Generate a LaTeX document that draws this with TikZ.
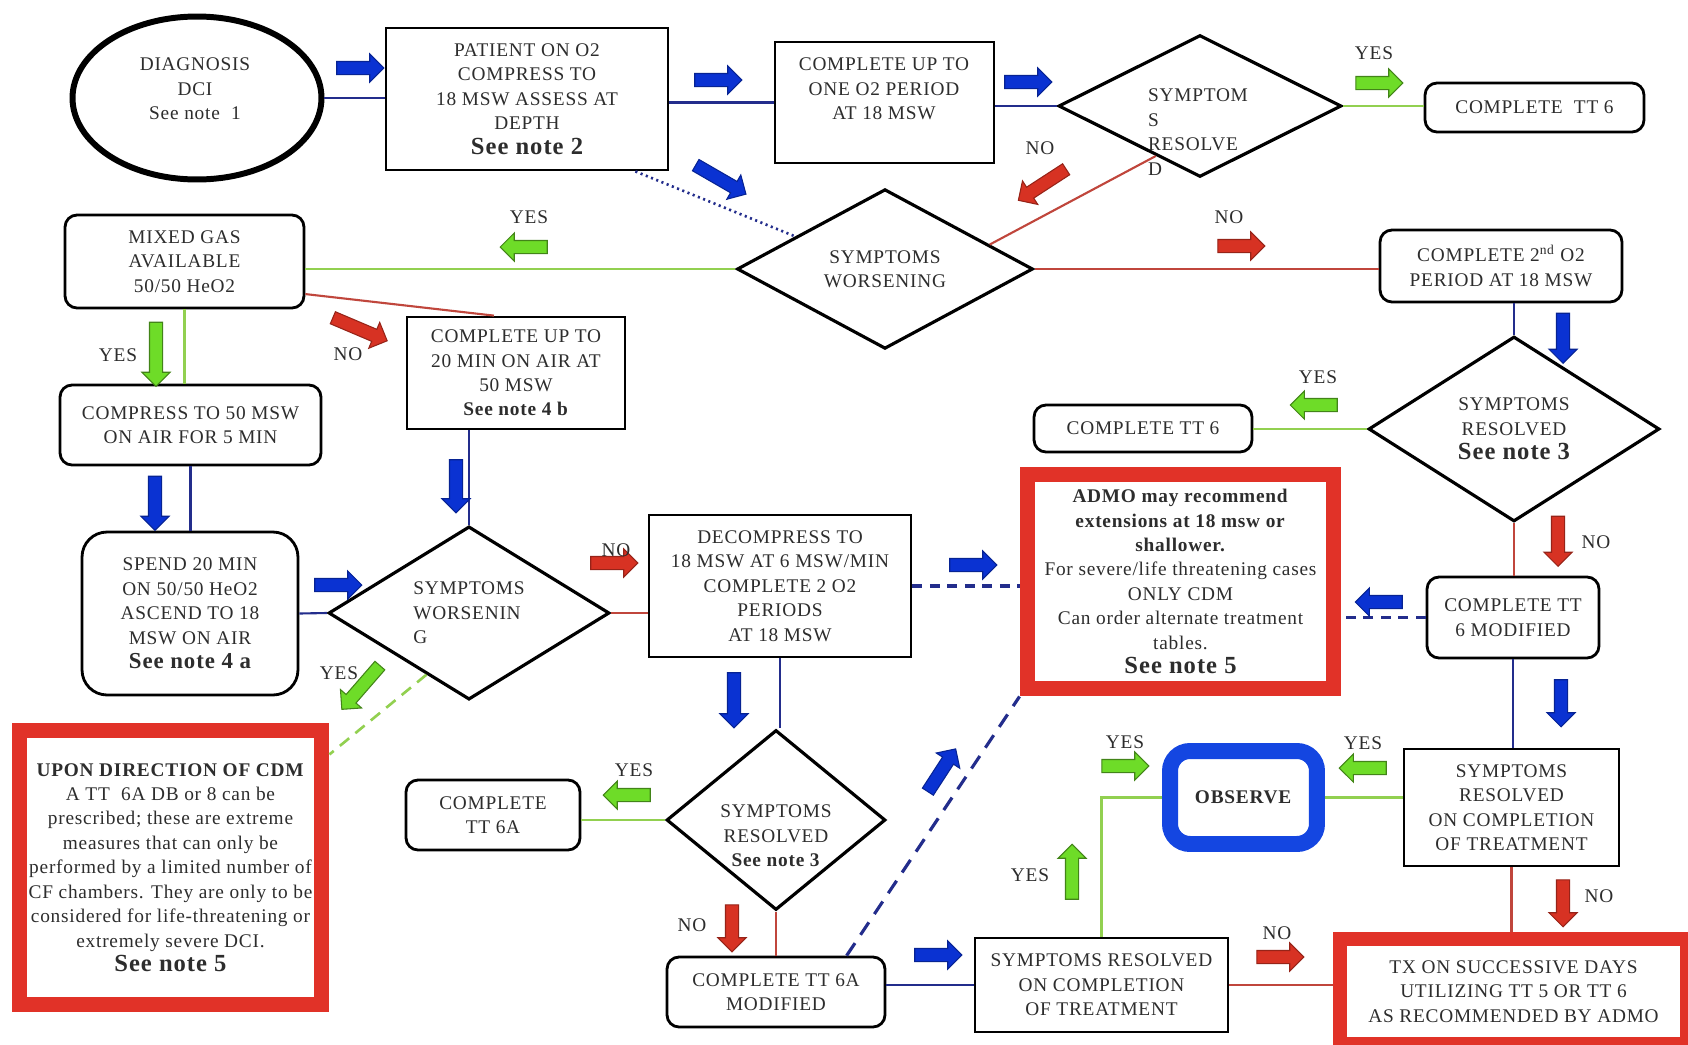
\documentclass[tikz,border=0pt]{standalone}
\usepackage{fontspec}
\setmainfont{Liberation Serif}[LetterSpace=4]
\usetikzlibrary{shapes.geometric,shapes.arrows,calc}
\definecolor{lnavy}{RGB}{35,45,140}
\definecolor{lgreen}{RGB}{146,208,80}
\definecolor{lred}{RGB}{192,70,60}
\definecolor{abluef}{RGB}{10,50,210}
\definecolor{agreenf}{RGB}{110,220,40}
\definecolor{aredf}{RGB}{215,50,35}
\definecolor{notered}{RGB}{225,50,40}
\definecolor{obsblue}{RGB}{20,70,225}
\definecolor{txtgray}{RGB}{45,45,45}

\begin{document}
\begin{tikzpicture}[x=0.02cm,y=-0.02cm,
  font=\fontsize{11}{13.9}\selectfont, text=txtgray,
  txt/.style={align=center,inner sep=0pt},
  box/.style={draw=black,line width=1.6pt,rectangle,align=center,inner sep=0pt},
  rbox/.style={box,rounded corners=0.24cm},
  dia/.style={draw=black,line width=1.8pt,diamond,align=center,inner sep=0pt},
  notebox/.style={draw=notered,line width=0.3cm,rectangle,align=center,inner sep=0pt},
  nv/.style={draw=lnavy,line width=1.2pt},
  gr/.style={draw=lgreen,line width=1.5pt},
  rd/.style={draw=lred,line width=1.2pt},
  blk/.style={single arrow,minimum height=0.94cm,single arrow head extend=0.15cm,inner xsep=0pt,inner ysep=0.12cm,line width=0.6pt},
  ba/.style={blk,draw=abluef!70!black,fill=abluef},
  ga/.style={blk,draw=agreenf!60!black,fill=agreenf},
  ra/.style={blk,draw=aredf!70!black,fill=aredf},
  yn/.style={inner sep=0pt}
]
\fill[white] (0,0) rectangle (1688,1045);
\useasboundingbox (0,0) rectangle (1688,1045);

% boxes and decisions
\node[ellipse,draw=black,line width=3.4pt,minimum width=4.98cm,minimum height=3.26cm,inner sep=0pt] (dx) at (197,98) {};
\node[txt] (dxt) at (195,89) {DIAGNOSIS\\DCI\\See note\ \ 1};
\node[box,minimum width=5.64cm,minimum height=2.84cm] (pat) at (527,99) {PATIENT ON O2\\COMPRESS TO\\18 MSW ASSESS AT\\DEPTH\\{\fontsize{14}{16}\selectfont\bfseries See note 2}};
\node[box,minimum width=4.38cm,minimum height=2.42cm] (c1) at (884.5,102.5) {};
\node[txt] (c1t) at (884,89) {COMPLETE UP TO\\ONE O2 PERIOD\\AT 18 MSW};
\node[dia,minimum width=5.66cm,minimum height=2.84cm] (sr1) at (1200,106) {};
\node[txt,align=left] (sr1t) at (1198,132) {SYMPTOM\\S\\RESOLVE\\D};
\node[rbox,minimum width=4.38cm,minimum height=0.98cm] (tt6a1) at (1534.5,107.5) {COMPLETE\ \ TT 6};

\node[rbox,minimum width=4.78cm,minimum height=1.86cm] (mix) at (184.5,261.5) {MIXED GAS\\AVAILABLE\\50/50 HeO2};
\node[dia,minimum width=5.92cm,minimum height=3.10cm] (wors1) at (885,269) {SYMPTOMS\\WORSENING};
\node[rbox,minimum width=4.84cm,minimum height=1.44cm] (c2nd) at (1501,266) {COMPLETE 2\textsuperscript{nd} O2\\PERIOD AT 18 MSW};

\node[box,minimum width=4.36cm,minimum height=2.24cm] (c20) at (516,373) {COMPLETE UP TO\\20 MIN ON AIR AT\\50 MSW\\\textbf{See note 4 b}};
\node[rbox,minimum width=5.22cm,minimum height=1.60cm] (cmp) at (190.5,425) {COMPRESS TO 50 MSW\\ON AIR FOR 5 MIN};
\node[rbox,minimum width=4.36cm,minimum height=0.94cm] (tt6b) at (1143,428.5) {COMPLETE TT 6};
\node[dia,minimum width=5.82cm,minimum height=3.70cm] (sr2) at (1514,429) {SYMPTOMS\\RESOLVED\\{\fontsize{14}{16}\selectfont\bfseries See note 3}};

\node[box,rounded corners=0.5cm,minimum width=4.32cm,minimum height=3.26cm] (spend) at (190,613.5) {SPEND 20 MIN\\ON 50/50 HeO2\\ASCEND TO 18\\MSW ON AIR\\{\fontsize{13}{15}\selectfont\bfseries See note 4 a}};
\node[dia,align=left,minimum width=5.62cm,minimum height=2.80cm] (wors2) at (469,613) {SYMPTOMS\\WORSENIN\\G};
\node[box,minimum width=5.24cm,minimum height=2.84cm] (decomp) at (780,586) {DECOMPRESS TO\\18 MSW AT 6 MSW/MIN\\COMPLETE 2 O2\\PERIODS\\AT 18 MSW};
\node[notebox,minimum width=6.14cm,minimum height=4.30cm] (admo) at (1180.5,581.5) {\textbf{ADMO may recommend}\\\textbf{extensions at 18 msw or}\\\textbf{shallower.}\\For severe/life threatening cases\\ONLY CDM\\Can order alternate treatment\\tables.\\{\fontsize{14}{16}\selectfont\bfseries See note 5}};
\node[rbox,minimum width=3.44cm,minimum height=1.62cm] (tt6m) at (1513,617.5) {COMPLETE TT\\6 MODIFIED};

\node[notebox,minimum width=6.06cm,minimum height=5.50cm] (upon) at (170.5,867.5) {\textbf{UPON DIRECTION OF CDM}\\A TT\ \ 6A DB or 8 can be\\prescribed; these are extreme\\measures that can only be\\performed by a limited number of\\CF chambers. They are only to be\\considered for life-threatening or\\extremely severe DCI.\\{\fontsize{14}{16}\selectfont\bfseries See note 5}};
\node[rbox,minimum width=3.48cm,minimum height=1.40cm] (tt6a) at (493,815) {COMPLETE\\TT 6A};
\node[dia,minimum width=4.38cm,minimum height=3.60cm] (srb) at (776,820) {};
\node[txt] (srbt) at (776,836) {SYMPTOMS\\RESOLVED\\\textbf{See note 3}};
\node[draw=obsblue,line width=0.32cm,rounded corners=0.4cm,minimum width=2.94cm,minimum height=1.86cm,inner sep=0pt] (obs) at (1243.5,797.5) {\textbf{OBSERVE}};
\node[box,minimum width=4.30cm,minimum height=2.34cm] (srcr) at (1511.5,807.5) {SYMPTOMS\\RESOLVED\\ON COMPLETION\\OF TREATMENT};
\node[rbox,minimum width=4.36cm,minimum height=1.40cm] (tt6am) at (776,992) {COMPLETE TT 6A\\MODIFIED};
\node[box,minimum width=5.06cm,minimum height=1.88cm] (srcb) at (1101.5,985) {SYMPTOMS RESOLVED\\ON COMPLETION\\OF TREATMENT};
\node[notebox,line width=0.28cm,minimum width=6.94cm,minimum height=2.09cm] (tx) at (1513.5,991.5) {TX ON SUCCESSIVE DAYS\\UTILIZING TT 5 OR TT 6\\AS RECOMMENDED BY ADMO};

% connectors
\draw[nv] (dx.east) -- (dx.east -| pat.west);
\draw[nv] (c1.west -| pat.east) -- (c1.west);
\draw[nv] (sr1.west -| c1.east) -- (sr1.west);
\draw[gr] (sr1.east) -- (sr1.east -| tt6a1.west);
\draw[nv,dotted,line width=1.5pt] ([xshift=-0.68cm]pat.south east) -- ($(wors1.west)!0.4!(wors1.north)$);
\draw[rd] ($(wors1.north)!0.7!(wors1.east)$) -- ($(sr1.west)!0.69!(sr1.south)$);
\draw[gr] (wors1.west) -- (wors1.west -| mix.east);
\draw[rd] (wors1.east) -- (wors1.east -| c2nd.west);
\draw[rd] ($(mix.north east)!0.84!(mix.south east)$) -- ($(c20.north west)!0.4!(c20.north east)$);
\draw[gr] (mix.south) -- (mix.south |- cmp.north);
\draw[nv] (cmp.south) -- (cmp.south |- spend.north);
\draw[nv] (wors2.north |- c20.south) -- (wors2.north);
\draw[nv] (spend.east) -- (wors2.west);
\draw[rd] (wors2.east) -- (wors2.east -| decomp.west);
\draw[gr,dash pattern=on 0.24cm off 0.16cm] ($(wors2.west)!0.7!(wors2.south)$) -- ($(upon.north east)!0.11!(upon.south east)$);
\draw[nv,line width=1.8pt,dash pattern=on 0.2cm off 0.15cm] (decomp.east) -- (decomp.east -| admo.west);
\draw[nv] (sr2.north |- c2nd.south) -- (sr2.north);
\draw[gr] (sr2.west) -- (sr2.west -| tt6b.east);
\draw[rd] (sr2.south) -- (sr2.south |- tt6m.north);
\draw[nv,line width=1.8pt,dash pattern=on 0.2cm off 0.15cm] (tt6m.west) -- (tt6m.west -| admo.east);
\draw[nv] (tt6m.south) -- (tt6m.south |- srcr.north);
\draw[rd] (srcr.south) -- (srcr.south |- tx.north);
\draw[gr] (obs.east) -- (obs.east -| srcr.west);
\draw[nv] (decomp.south) -- (decomp.south |- srb.north);
\draw[gr] (srb.west) -- (srb.west -| tt6a.east);
\draw[rd] (srb.south) -- (srb.south |- tt6am.north);
\draw[nv,line width=1.8pt,dash pattern=on 0.3cm off 0.2cm] ($(tt6am.north east)!0.18!(tt6am.north west)$) -- (admo.south west);
\draw[nv] (srcb.west -| tt6am.east) -- (srcb.west);
\draw[gr] (srcb.north) |- (obs.west);
\draw[rd] (srcb.east) -- (srcb.east -| tx.west);

% block arrows
\node[ba] (ab1) at (357,68) {};
\node[ba] (ab2) at (715,80) {};
\node[ba] (ab3) at (1025,82) {};
\node[ba,rotate=-30,minimum height=1.16cm] (ab4) at (718,178) {};
\node[ba,rotate=-90,minimum height=1.08cm] (ab5) at (155,500) {};
\node[ba,rotate=-90,minimum height=1.06cm] (ab6) at (456,483) {};
\node[ba] (ab7) at (335,585) {};
\node[ba] (ab8) at (970,565) {};
\node[ba,rotate=180] (ab9) at (1382,602) {};
\node[ba,rotate=-90,minimum height=1.0cm] (ab10) at (1563,335) {};
\node[ba,rotate=-90] (ab11) at (1561,700) {};
\node[ba,rotate=-90,minimum height=1.1cm] (ab12) at (734,697) {};
\node[ba,rotate=57,minimum height=1.02cm] (ab13) at (940,773) {};
\node[ba] (ab14) at (935,955) {};

\node[ga] (ag1) at (1376,83) {};
\node[ga,rotate=180] (ag2) at (527,247) {};
\node[ga,rotate=-90,minimum height=1.28cm] (ag3) at (156,351) {};
\node[ga,rotate=180] (ag4) at (1317,405) {};
\node[ga,rotate=229,minimum height=1.16cm] (ag5) at (363,685) {};
\node[ga,rotate=180] (ag6) at (630,795) {};
\node[ga] (ag7) at (1122,766) {};
\node[ga,rotate=180] (ag8) at (1366,768) {};
\node[ga,rotate=90,minimum height=1.1cm] (ag9) at (1072,875) {};

\node[ra,rotate=213,minimum height=1.14cm] (ar1) at (1045,183) {};
\node[ra] (ar2) at (1238,246) {};
\node[ra,rotate=-23,minimum height=1.18cm] (ar3) at (357,328) {};
\node[ra] (ar4) at (611,563) {};
\node[ra,rotate=-90,minimum height=1.0cm] (ar5) at (1558,538) {};
\node[ra,rotate=-90] (ar6) at (732,925) {};
\node[ra,rotate=-90] (ar7) at (1563,900) {};
\node[ra] (ar8) at (1277,957) {};

% yes / no
\node[yn] (ly1) at (1374,53) {YES};
\node[yn] (ln1) at (1040,148) {NO};
\node[yn] (ly2) at (529,217) {YES};
\node[yn] (ln2) at (1229,217) {NO};
\node[yn] (ln3) at (348,354) {NO};
\node[yn] (ly3) at (118,355) {YES};
\node[yn] (ly4) at (1318,377) {YES};
\node[yn] (ln4) at (616,550) {NO};
\node[yn] (ln5) at (1596,542) {NO};
\node[yn] (ly5) at (339,673) {YES};
\node[yn] (ly6) at (634,770) {YES};
\node[yn] (ln6) at (692,925) {NO};
\node[yn] (ly7) at (1125,742) {YES};
\node[yn] (ly8) at (1363,743) {YES};
\node[yn] (ly9) at (1030,875) {YES};
\node[yn] (ln7) at (1599,896) {NO};
\node[yn] (ln8) at (1277,933) {NO};
\end{tikzpicture}
\end{document}
